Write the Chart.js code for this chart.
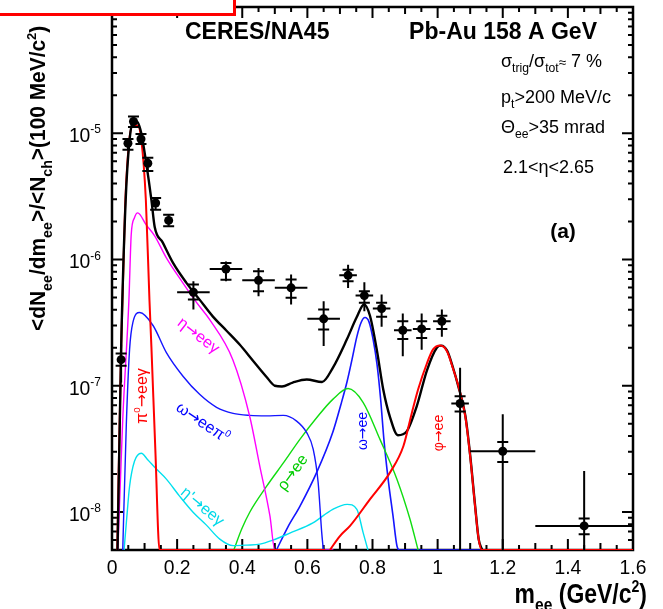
<!DOCTYPE html>
<html>
<head>
<meta charset="utf-8">
<title>CERES/NA45 Pb-Au 158 A GeV - dielectron mass spectrum</title>
<script src="https://cdn.jsdelivr.net/npm/chart.js@4.4.1/dist/chart.umd.min.js"></script>
<style>
  html, body { margin: 0; padding: 0; background: #fff; }
  #wrap { width: 663px; height: 609px; }
</style>
</head>
<body>
<div id="wrap"><canvas id="massChart" width="663" height="609"></canvas></div>
<script>
// Axis ranges
const M_MIN = 0, M_MAX = 1.6;
const Y_MIN = 5e-9, Y_MAX = 1e-4;

// Tick labels
const xTickValues = [0, 0.2, 0.4, 0.6, 0.8, 1.0, 1.2, 1.4, 1.6];
const xTickLabels = ['0', '0.2', '0.4', '0.6', '0.8', '1', '1.2', '1.4', '1.6'];
const yTickExps = [-8, -7, -6, -5, -4];

// Measured points (GeV/c^2, yield)
const ptMass    = [0.028, 0.049, 0.066, 0.089, 0.110, 0.134, 0.174, 0.25, 0.35, 0.45, 0.55, 0.65, 0.725, 0.775, 0.828, 0.893, 0.951, 1.013, 1.069, 1.20, 1.45];
const ptYield   = [1.61e-7, 8.34e-6, 1.24e-5, 9.0e-6, 5.79e-6, 2.80e-6, 2.04e-6, 5.5e-7, 8.41e-7, 6.84e-7, 5.96e-7, 3.39e-7, 7.49e-7, 5.18e-7, 4.09e-7, 2.75e-7, 2.82e-7, 3.24e-7, 7.24e-8, 3.03e-8, 7.76e-9];
const ptBinHalf = [0.004, 0.004, 0.004, 0.004, 0.004, 0.004, 0.004, 0.05, 0.05, 0.05, 0.05, 0.05, 0.027, 0.027, 0.027, 0.027, 0.027, 0.027, 0.027, 0.1, 0.15];
const ptStatHi  = [2.12e-7, 9.0e-6, 1.36e-5, 9.86e-6, 6.41e-6, 3.07e-6, 2.26e-6, 6.72e-7, 9.65e-7, 8.57e-7, 7.59e-7, 4.67e-7, 9.10e-7, 6.60e-7, 5.28e-7, 3.73e-7, 3.73e-7, 4.01e-7, 1.39e-7, 5.94e-8, 2.11e-8];
const ptStatLo  = [1.06e-7, 7.4e-6, 1.12e-5, 8.22e-6, 5.03e-6, 2.48e-6, 1.83e-6, 4.01e-7, 6.71e-7, 5.11e-7, 4.40e-7, 2.06e-7, 5.95e-7, 3.89e-7, 2.93e-7, 1.71e-7, 1.93e-7, 2.44e-7, 0, 0, 0];
const ptSysHi   = [1.80e-7, 9.0e-6, 1.36e-5, 9.86e-6, 6.41e-6, 3.07e-6, 2.26e-6, 6.33e-7, 9.38e-7, 8.06e-7, 6.93e-7, 4.01e-7, 8.31e-7, 5.60e-7, 4.54e-7, 3.24e-7, 3.24e-7, 3.59e-7, 8.27e-8, 3.59e-8, 8.9e-9];
const ptSysLo   = [1.44e-7, 7.4e-6, 1.12e-5, 8.22e-6, 5.03e-6, 2.48e-6, 1.83e-6, 4.82e-7, 6.92e-7, 5.60e-7, 4.97e-7, 2.79e-7, 6.72e-7, 4.54e-7, 3.52e-7, 2.35e-7, 2.39e-7, 2.82e-7, 6.24e-8, 2.49e-8, 6.67e-9];

// Hadronic cocktail (0 = below the axis range)
const pi0Mass  = [0.016, 0.028, 0.040, 0.052, 0.064, 0.078, 0.090, 0.104, 0.115, 0.121, 0.133, 0.146, 0.655];
const pi0Yield = [0, 1.95e-7, 2.51e-6, 8.3e-6, 1.15e-5, 1.15e-5, 8.9e-6, 2.95e-6, 4.8e-7, 2.04e-7, 3.16e-8, 0, 0];

const etaMass  = [0.018, 0.026, 0.033, 0.052, 0.059, 0.069, 0.079, 0.105, 0.131, 0.167, 0.217, 0.260, 0.300, 0.371, 0.423, 0.454, 0.485, 0.500, 0.680];
const etaYield = [0, 1.82e-8, 5.42e-8, 4.81e-7, 1.57e-6, 2.14e-6, 2.34e-6, 1.88e-6, 1.54e-6, 1.03e-6, 6.56e-7, 4.55e-7, 3.34e-7, 1.61e-7, 5.71e-8, 2.30e-8, 9.3e-9, 0, 0];

const omegaDalitzMass  = [0.033, 0.044, 0.054, 0.064, 0.085, 0.126, 0.167, 0.218, 0.269, 0.321, 0.372, 0.423, 0.474, 0.526, 0.567, 0.598, 0.618, 0.633, 0.644, 0.649];
const omegaDalitzYield = [0, 4.95e-8, 1.94e-7, 3.16e-7, 3.80e-7, 3.0e-7, 1.83e-7, 1.19e-7, 8.55e-8, 6.75e-8, 6.04e-8, 5.82e-8, 5.77e-8, 5.82e-8, 5.25e-8, 4.25e-8, 3.13e-8, 1.72e-8, 6.9e-9, 0];

const etaPrimeMass  = [0.037, 0.045, 0.054, 0.069, 0.090, 0.109, 0.134, 0.167, 0.208, 0.249, 0.290, 0.331, 0.372, 0.414, 0.454, 0.494, 0.546, 0.617, 0.678, 0.722, 0.752, 0.771, 0.786];
const etaPrimeYield = [0, 8.8e-9, 1.6e-8, 2.52e-8, 2.92e-8, 2.61e-8, 2.22e-8, 1.82e-8, 1.33e-8, 9.96e-9, 7.87e-9, 6.1e-9, 5.42e-9, 5.47e-9, 5.56e-9, 5.98e-9, 6.8e-9, 8.2e-9, 1.05e-8, 1.15e-8, 1.05e-8, 6.9e-9, 0];

const rhoMass  = [0.374, 0.398, 0.423, 0.475, 0.528, 0.577, 0.629, 0.678, 0.725, 0.771, 0.823, 0.875, 0.915, 0.940];
const rhoYield = [0, 7.3e-9, 9.95e-9, 1.6e-8, 2.48e-8, 3.76e-8, 5.6e-8, 7.8e-8, 9.5e-8, 7.4e-8, 3.76e-8, 1.82e-8, 8.8e-9, 0];

const omegaMass  = [0.505, 0.540, 0.577, 0.629, 0.678, 0.703, 0.722, 0.737, 0.752, 0.765, 0.777, 0.789, 0.802, 0.814, 0.825, 0.835, 0.848, 0.863, 0.875, 0.882, 1.146];
const omegaYield = [0, 7.6e-9, 1.11e-8, 2.07e-8, 4.28e-8, 7.1e-8, 1.08e-7, 1.61e-7, 2.45e-7, 3.17e-7, 3.47e-7, 3.22e-7, 2.32e-7, 1.47e-7, 7.8e-8, 3.76e-8, 1.82e-8, 9.3e-9, 5.4e-9, 0, 0];

const phiMass  = [0.669, 0.700, 0.731, 0.792, 0.854, 0.895, 0.921, 0.940, 0.967, 0.986, 1.008, 1.029, 1.048, 1.064, 1.085, 1.100, 1.115, 1.126, 1.136, 1.600];
const phiYield = [0, 6.45e-9, 7.76e-9, 1.26e-8, 2.06e-8, 3.33e-8, 6.12e-8, 9.35e-8, 1.5e-7, 1.94e-7, 2.08e-7, 1.87e-7, 1.35e-7, 9.9e-8, 5.71e-8, 2.76e-8, 1.11e-8, 6.1e-9, 0, 0];

const totalMass  = [0.017, 0.028, 0.042, 0.054, 0.066, 0.078, 0.090, 0.105, 0.121, 0.131, 0.156, 0.187, 0.228, 0.269, 0.310, 0.351, 0.392, 0.433, 0.474, 0.500, 0.522, 0.555, 0.598, 0.645, 0.679, 0.721, 0.751, 0.774, 0.792, 0.813, 0.833, 0.854, 0.878, 0.905, 0.936, 0.967, 0.998, 1.011, 1.029, 1.048, 1.063, 1.085, 1.100, 1.115, 1.126, 1.137];
const totalYield = [0, 1.94e-7, 2.97e-6, 8.85e-6, 1.27e-5, 1.23e-5, 1.0e-5, 5.82e-6, 2.97e-6, 1.82e-6, 1.36e-6, 9.44e-7, 6.56e-7, 4.81e-7, 3.53e-7, 2.74e-7, 2.12e-7, 1.58e-7, 1.18e-7, 1.0e-7, 9.86e-8, 1.06e-7, 1.12e-7, 1.07e-7, 1.40e-7, 2.32e-7, 3.47e-7, 4.4e-7, 3.6e-7, 1.94e-7, 9.35e-8, 5.62e-8, 4.05e-8, 4.35e-8, 6.9e-8, 1.32e-7, 2.01e-7, 2.08e-7, 1.90e-7, 1.37e-7, 1.0e-7, 5.82e-8, 2.81e-8, 1.13e-8, 6.1e-9, 0];

const FONT = '"Liberation Sans", Arial, Helvetica, sans-serif';
const ARROW_FONT = '"DejaVu Sans", sans-serif';
const CAP = 5.5;  // half width of systematic caps, px

// values under the axis minimum are drawn along the bottom edge
function curvePoints(mass, vals) {
    return mass.map((m, i) => ({ x: m, y: Math.max(vals[i], Y_MIN) }));
}

function component(label, mass, vals, color, width) {
    return {
        label: label,
        data: curvePoints(mass, vals),
        borderColor: color,
        borderWidth: width,
        pointRadius: 0,
        fill: false,
        cubicInterpolationMode: 'monotone'
    };
}

// text with sub/superscripts: parts = [[text, kind], ...]
const KIND_SCALE = { '': 1, sub: 0.68, sup: 0.62, mid: 0.75, arr: 1 };
function richText(ctx, parts, x, y, o) {
    const size = o.size;
    const weight = o.bold ? 'bold ' : '';
    const fontFor = k => weight + (size * KIND_SCALE[k]).toFixed(1) + 'px ' + (k === 'arr' ? ARROW_FONT : FONT);
    let w = 0;
    const runs = parts.map(p => {
        const t = p[0], k = p[1] || '';
        ctx.font = fontFor(k);
        const r = { t: t, k: k, x: w };
        w += ctx.measureText(t).width;
        return r;
    });
    ctx.save();
    ctx.translate(x, y);
    if (o.rot) ctx.rotate(o.rot);
    ctx.scale(o.sx || 1, 1);
    const x0 = o.align === 'right' ? -w : o.align === 'center' ? -w / 2 : 0;
    const dy = o.middle ? size * 0.35 : 0;
    ctx.fillStyle = o.color || '#000';
    ctx.textAlign = 'left';
    ctx.textBaseline = 'alphabetic';
    runs.forEach(r => {
        ctx.font = fontFor(r.k);
        const off = r.k === 'sub' ? size * 0.3 : r.k === 'sup' ? -size * 0.42 : r.k === 'mid' ? -size * 0.02 : 0;
        ctx.fillText(r.t, x0 + r.x, dy + off);
    });
    ctx.restore();
}

// frame with inward ticks on all four sides
const framePlugin = {
    id: 'frame',
    beforeDatasetsDraw(chart) {
        const { ctx, chartArea: a, scales: { x, y } } = chart;
        ctx.save();
        ctx.strokeStyle = '#000';
        ctx.lineWidth = 2;
        ctx.beginPath();
        for (let i = 0; i <= 32; i++) {
            const px = x.getPixelForValue(i * 0.05);
            const len = i % 4 === 0 ? 11 : i % 2 === 0 ? 7 : 5;
            ctx.moveTo(px, a.bottom); ctx.lineTo(px, a.bottom - len);
            ctx.moveTo(px, a.top); ctx.lineTo(px, a.top + len);
        }
        for (let e = -9; e <= -4; e++) {
            for (let m = 1; m <= 9; m++) {
                const v = m * Math.pow(10, e);
                if (v < Y_MIN * 0.999 || v > Y_MAX * 1.001) continue;
                const py = y.getPixelForValue(v);
                const len = m === 1 ? 11 : 5;
                ctx.moveTo(a.left, py); ctx.lineTo(a.left + len, py);
                ctx.moveTo(a.right, py); ctx.lineTo(a.right - len, py);
            }
        }
        ctx.stroke();
        ctx.lineWidth = 2.5;
        ctx.strokeRect(a.left, a.top, a.right - a.left, a.bottom - a.top);
        ctx.restore();
    }
};

// error bars: stat (vertical line), bin width (horizontal), systematic (caps)
const errorBarPlugin = {
    id: 'errorBars',
    afterDatasetsDraw(chart) {
        const { ctx, chartArea: a, scales: { x, y } } = chart;
        const py = v => v <= Y_MIN ? a.bottom : y.getPixelForValue(v);
        ctx.save();
        ctx.beginPath();
        ctx.rect(a.left, a.top, a.right - a.left, a.bottom - a.top);
        ctx.clip();
        ctx.strokeStyle = '#000';
        ctx.lineWidth = 2;
        ptMass.forEach((m, i) => {
            const cx = x.getPixelForValue(m);
            const cy = py(ptYield[i]);
            ctx.beginPath();
            ctx.moveTo(cx, py(ptStatHi[i]));
            ctx.lineTo(cx, py(ptStatLo[i]));
            ctx.moveTo(x.getPixelForValue(m - ptBinHalf[i]), cy);
            ctx.lineTo(x.getPixelForValue(m + ptBinHalf[i]), cy);
            [ptSysHi[i], ptSysLo[i]].forEach(v => {
                const yy = py(v);
                ctx.moveTo(cx - CAP, yy);
                ctx.lineTo(cx + CAP, yy);
            });
            ctx.stroke();
        });
        ctx.restore();
    }
};

// tick labels, titles and annotations
const labelPlugin = {
    id: 'labels',
    afterDraw(chart) {
        const { ctx, scales: { x, y } } = chart;

        xTickValues.forEach((v, i) => {
            richText(ctx, [[xTickLabels[i]]], x.getPixelForValue(v), 574, { size: 21, sx: 0.92, align: 'center' });
        });
        yTickExps.forEach(e => {
            const py = y.getPixelForValue(Math.pow(10, e));
            richText(ctx, [['10'], [String(e), 'sup']], 101, py + 9, { size: 21, sx: 0.92, align: 'right' });
        });

        richText(ctx, [['m'], ['ee', 'sub'], [' (GeV/c'], ['2', 'sup'], [')']], 647, 603,
            { size: 27, bold: true, sx: 0.85, align: 'right' });
        richText(ctx, [['<dN'], ['ee', 'sub'], ['/dm'], ['ee', 'sub'], ['>/<N'], ['ch', 'sub'], ['>(100 MeV/c'], ['2', 'sup'], [')']],
            45, 331, { size: 22, bold: true, sx: 0.95, rot: -Math.PI / 2 });

        richText(ctx, [['CERES/NA45']], 185, 39, { size: 23, bold: true });
        richText(ctx, [['Pb-Au 158 A GeV']], 597, 39, { size: 23, bold: true, align: 'right' });
        richText(ctx, [['σ'], ['trig', 'sub'], ['/σ'], ['tot', 'sub'], ['≈', 'mid'], [' 7 %']], 501, 67, { size: 18 });
        richText(ctx, [['p'], ['t', 'sub'], ['>200 MeV/c']], 501, 103, { size: 18 });
        richText(ctx, [['Θ'], ['ee', 'sub'], ['>35 mrad']], 501, 133, { size: 18 });
        richText(ctx, [['2.1<η<2.65']], 503, 173, { size: 18 });
        richText(ctx, [['(a)']], 563, 238, { size: 21, bold: true, align: 'center' });

        // curve labels
        const deg = Math.PI / 180;
        const lab = (parts, px, py, color, rot, size) =>
            richText(ctx, parts, px, py, { size: size, color: color, rot: rot * deg, align: 'center', middle: true });
        lab([['π'], ['0', 'sup'], ['→', 'arr'], ['eeγ']], 141, 396, '#ff0000', -90, 16);
        lab([['η'], ['→', 'arr'], ['eeγ']], 199, 335, '#ff00ff', 38, 16);
        lab([['ω'], ['→', 'arr'], ['eeπ'], ['0', 'sup']], 203, 422, '#0000ff', 34, 16);
        lab([["η'"], ['→', 'arr'], ['eeγ']], 203, 506, '#00d8e8', 40, 16);
        lab([['ρ'], ['→', 'arr'], ['ee']], 292, 472, '#00cc00', -54, 16);
        lab([['ω'], ['→', 'arr'], ['ee']], 362, 431, '#0000ff', -90, 14);
        lab([['φ'], ['→', 'arr'], ['ee']], 438, 433, '#ff0000', -90, 14);

        // boxed header strip at the top-left corner
        ctx.save();
        ctx.fillStyle = '#fff';
        ctx.fillRect(-10, -10, 246, 26);
        ctx.strokeStyle = '#ff0000';
        ctx.lineWidth = 3;
        ctx.strokeRect(-10, -10, 244.5, 24.5);
        ctx.restore();
    }
};

const datasets = [
    {
        label: 'CERES data',
        data: ptMass.map((m, i) => ({ x: m, y: ptYield[i] })),
        showLine: false,
        pointRadius: 4.5,
        pointBackgroundColor: '#000',
        pointBorderColor: '#000',
        pointBorderWidth: 0
    },
    component('φ→ee', phiMass, phiYield, '#ff0000', 2),
    component('sum', totalMass, totalYield, '#000000', 2.4),
    component('π0→eeγ', pi0Mass, pi0Yield, '#ff0000', 2),
    component('η→eeγ', etaMass, etaYield, '#ff00ff', 1.4),
    component('ω→eeπ0', omegaDalitzMass, omegaDalitzYield, '#1515ff', 1.4),
    component("η'→eeγ", etaPrimeMass, etaPrimeYield, '#00e0ee', 1.4),
    component('ρ→ee', rhoMass, rhoYield, '#10dd10', 1.4),
    component('ω→ee', omegaMass, omegaYield, '#1515ff', 1.6)
];

new Chart(document.getElementById('massChart'), {
    type: 'line',
    data: { datasets: datasets },
    options: {
        responsive: false,
        animation: false,
        devicePixelRatio: 1,
        layout: { padding: { left: 112, right: 30, top: 7, bottom: 59 } },
        plugins: { legend: { display: false }, tooltip: { enabled: false } },
        scales: {
            x: { type: 'linear', min: M_MIN, max: M_MAX, display: false },
            y: { type: 'logarithmic', min: Y_MIN, max: Y_MAX, display: false }
        }
    },
    plugins: [framePlugin, errorBarPlugin, labelPlugin]
});
</script>
</body>
</html>
